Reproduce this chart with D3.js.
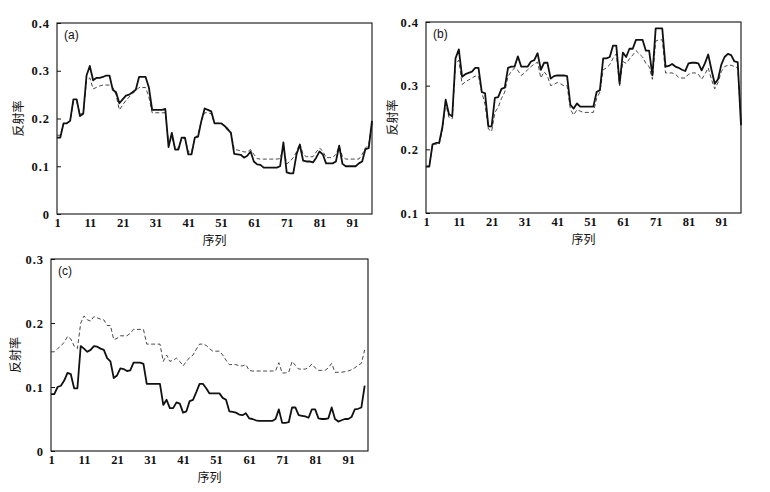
<!DOCTYPE html>
<html><head><meta charset="utf-8">
<script src="https://cdn.jsdelivr.net/npm/d3@7/dist/d3.min.js"></script>
<style>
body{margin:0;background:#fff;}
svg{display:block;}
</style></head>
<body><svg id="chart" width="770" height="492"></svg>
<script>
// ---- data ----
const seqA = d3.range(1, 98);
const seqB = d3.range(1, 98);
const seqC = d3.range(1, 97);
const xTicks = [1, 11, 21, 31, 41, 51, 61, 71, 81, 91];
const yTicksA = [0, 0.1, 0.2, 0.3, 0.4];
const yTicksB = [0.1, 0.2, 0.3, 0.4];
const yTicksC = [0, 0.1, 0.2, 0.3];
const xLabel = "序列";
const yLabel = "反射率";
const panelNames = ["(a)", "(b)", "(c)"];

const aSolid = [0.16,0.16,0.19,0.19,0.195,0.24,0.24,0.205,0.21,0.29,
 0.31,0.28,0.285,0.285,0.287,0.29,0.29,0.26,0.255,0.232,
 0.24,0.248,0.25,0.255,0.26,0.287,0.287,0.287,0.265,0.218,
 0.218,0.218,0.218,0.22,0.14,0.17,0.135,0.135,0.16,0.16,
 0.125,0.125,0.16,0.162,0.195,0.221,0.218,0.215,0.19,0.19,
 0.19,0.185,0.178,0.17,0.126,0.125,0.124,0.118,0.122,0.131,
 0.11,0.104,0.103,0.097,0.097,0.097,0.097,0.097,0.1,0.15,
 0.087,0.085,0.085,0.125,0.145,0.112,0.11,0.11,0.108,0.118,
 0.131,0.125,0.106,0.106,0.106,0.11,0.143,0.105,0.1,0.1,
 0.1,0.1,0.106,0.11,0.136,0.138,0.195];
const aDashed = [0.165,0.165,0.19,0.19,0.195,0.235,0.235,0.21,0.21,0.28,
 0.285,0.262,0.265,0.268,0.27,0.27,0.27,0.265,0.25,0.218,
 0.228,0.238,0.245,0.252,0.258,0.265,0.265,0.265,0.245,0.212,
 0.212,0.212,0.212,0.212,0.15,0.16,0.138,0.138,0.158,0.158,
 0.13,0.13,0.158,0.168,0.195,0.212,0.212,0.21,0.19,0.19,
 0.19,0.185,0.175,0.172,0.135,0.134,0.132,0.13,0.13,0.135,
 0.125,0.116,0.115,0.115,0.115,0.115,0.115,0.115,0.116,0.14,
 0.105,0.11,0.118,0.13,0.148,0.125,0.12,0.12,0.12,0.13,
 0.138,0.132,0.118,0.118,0.118,0.125,0.142,0.12,0.115,0.115,
 0.115,0.115,0.115,0.125,0.138,0.145,0.19];
const bSolid = [0.173,0.173,0.208,0.21,0.21,0.235,0.278,0.255,0.252,0.343,
 0.357,0.314,0.318,0.32,0.322,0.328,0.328,0.29,0.288,0.236,
 0.236,0.281,0.282,0.295,0.297,0.328,0.33,0.33,0.346,0.33,
 0.33,0.33,0.338,0.34,0.351,0.325,0.336,0.336,0.311,0.315,
 0.316,0.316,0.316,0.315,0.27,0.264,0.272,0.267,0.267,0.267,
 0.267,0.267,0.29,0.293,0.343,0.343,0.345,0.363,0.363,0.303,
 0.352,0.345,0.358,0.358,0.372,0.372,0.372,0.355,0.355,0.316,
 0.39,0.39,0.39,0.33,0.331,0.334,0.33,0.328,0.325,0.323,
 0.335,0.336,0.336,0.335,0.324,0.335,0.349,0.325,0.303,0.31,
 0.333,0.345,0.35,0.348,0.338,0.337,0.238];
const bDashed = [0.173,0.173,0.208,0.208,0.208,0.23,0.272,0.25,0.248,0.335,
 0.34,0.302,0.306,0.309,0.312,0.315,0.315,0.29,0.27,0.232,
 0.228,0.258,0.266,0.28,0.29,0.315,0.322,0.328,0.324,0.316,
 0.32,0.325,0.33,0.334,0.337,0.312,0.322,0.315,0.3,0.302,
 0.305,0.303,0.3,0.3,0.263,0.254,0.262,0.26,0.258,0.258,
 0.258,0.258,0.28,0.29,0.325,0.328,0.333,0.343,0.35,0.3,
 0.338,0.335,0.342,0.348,0.355,0.35,0.345,0.335,0.33,0.31,
 0.37,0.372,0.372,0.32,0.32,0.32,0.318,0.313,0.312,0.312,
 0.318,0.32,0.32,0.318,0.31,0.318,0.328,0.31,0.295,0.305,
 0.322,0.33,0.332,0.332,0.33,0.328,0.245];
const cSolid = [0.089,0.089,0.1,0.102,0.11,0.122,0.12,0.098,0.098,0.164,
 0.16,0.155,0.158,0.164,0.163,0.16,0.158,0.145,0.14,0.114,
 0.118,0.129,0.128,0.125,0.126,0.138,0.138,0.138,0.136,0.105,
 0.105,0.105,0.105,0.105,0.072,0.08,0.067,0.067,0.076,0.074,
 0.06,0.062,0.078,0.08,0.092,0.105,0.105,0.098,0.09,0.09,
 0.09,0.09,0.083,0.08,0.062,0.061,0.06,0.057,0.056,0.059,
 0.051,0.05,0.048,0.047,0.047,0.047,0.047,0.047,0.05,0.065,
 0.044,0.044,0.045,0.068,0.068,0.056,0.055,0.054,0.052,0.065,
 0.065,0.051,0.05,0.05,0.051,0.068,0.05,0.046,0.048,0.05,
 0.05,0.053,0.065,0.066,0.068,0.102];
const cDashed = [0.155,0.155,0.16,0.164,0.17,0.179,0.175,0.164,0.16,0.2,
 0.211,0.205,0.203,0.21,0.208,0.206,0.205,0.196,0.196,0.174,
 0.176,0.18,0.18,0.18,0.184,0.19,0.19,0.19,0.19,0.167,
 0.167,0.167,0.167,0.167,0.14,0.15,0.14,0.142,0.145,0.14,
 0.133,0.14,0.146,0.15,0.159,0.167,0.167,0.165,0.16,0.156,
 0.156,0.156,0.15,0.142,0.135,0.135,0.135,0.133,0.133,0.135,
 0.126,0.125,0.125,0.125,0.125,0.125,0.125,0.125,0.125,0.138,
 0.122,0.122,0.123,0.14,0.134,0.128,0.128,0.128,0.13,0.136,
 0.13,0.126,0.126,0.126,0.13,0.137,0.123,0.123,0.123,0.124,
 0.125,0.127,0.13,0.134,0.137,0.158];

// ---- layout ----
const panels = [
  {name: panelNames[0], seq: seqA, solid: aSolid, dashed: aDashed, yTicks: yTicksA, yDom: [0, 0.4],
   left: 57, right: 372, top: 23, bottom: 214, ylx: 19},
  {name: panelNames[1], seq: seqB, solid: bSolid, dashed: bDashed, yTicks: yTicksB, yDom: [0.1, 0.4],
   left: 426, right: 741, top: 22, bottom: 213, ylx: 393},
  {name: panelNames[2], seq: seqC, solid: cSolid, dashed: cDashed, yTicks: yTicksC, yDom: [0, 0.3],
   left: 51, right: 368, top: 259, bottom: 451, ylx: 16}
];

const svg = d3.select("#chart");
const fmt = d => d === 0 ? "0" : d3.format(".1f")(d);
const serif = "'Liberation Serif', 'Times New Roman', 'DejaVu Serif', serif";
const cjk = "'Noto Sans CJK SC', sans-serif";

panels.forEach(p => {
  const x = d3.scaleLinear().domain([1, 97]).range([p.left, p.right]);
  const y = d3.scaleLinear().domain(p.yDom).range([p.bottom, p.top]);
  const g = svg.append("g");

  const xa = g.append("g").attr("transform", `translate(0,${p.bottom})`)
    .call(d3.axisBottom(x).tickValues(xTicks).tickFormat(d3.format("d")).tickSizeInner(0).tickSizeOuter(0).tickPadding(4));
  xa.select(".domain").remove();
  xa.selectAll(".tick text").style("font-family", serif).style("font-size", "12.5px")
    .style("font-weight", "bold").attr("fill", "#111");

  const ya = g.append("g").attr("transform", `translate(${p.left},0)`)
    .call(d3.axisLeft(y).tickValues(p.yTicks).tickFormat(fmt).tickSizeInner(-4).tickSizeOuter(0).tickPadding(7));
  ya.select(".domain").remove();
  ya.selectAll(".tick line").attr("stroke", "#111").attr("stroke-width", 1);
  ya.selectAll(".tick text").style("font-family", serif).style("font-size", "12.5px")
    .style("font-weight", "bold").style("letter-spacing", "1px").attr("fill", "#111");

  g.append("rect").attr("x", p.left).attr("y", p.top)
    .attr("width", p.right - p.left).attr("height", p.bottom - p.top)
    .attr("fill", "none").attr("stroke", "#111").attr("stroke-width", 1.1);

  const line = vals => d3.line().x((d, i) => x(p.seq[i])).y(d => y(d))(vals);
  g.append("path").attr("d", line(p.dashed)).attr("fill", "none")
    .attr("stroke", "#333").attr("stroke-width", 0.9).attr("stroke-dasharray", "4,2.5");
  g.append("path").attr("d", line(p.solid)).attr("fill", "none")
    .attr("stroke", "#111").attr("stroke-width", 1.8).attr("stroke-linejoin", "round");

  g.append("text").attr("x", p.left + 7).attr("y", p.top + 16)
    .style("font-family", "'Liberation Sans', Arial, sans-serif").style("font-size", "12px").attr("fill", "#111")
    .text(p.name);

  g.append("text").attr("x", (p.left + p.right) / 2).attr("y", p.bottom + 31)
    .attr("text-anchor", "middle").style("font-family", cjk)
    .style("font-size", "12px").attr("fill", "#111").text(xLabel);

  const cy = (p.top + p.bottom) / 2;
  g.append("text").attr("transform", `translate(${p.ylx},${cy}) rotate(-90)`)
    .attr("text-anchor", "middle").attr("dy", "0.35em").style("font-family", cjk)
    .style("font-size", "12px").attr("fill", "#111").text(yLabel);
});
</script></body></html>
